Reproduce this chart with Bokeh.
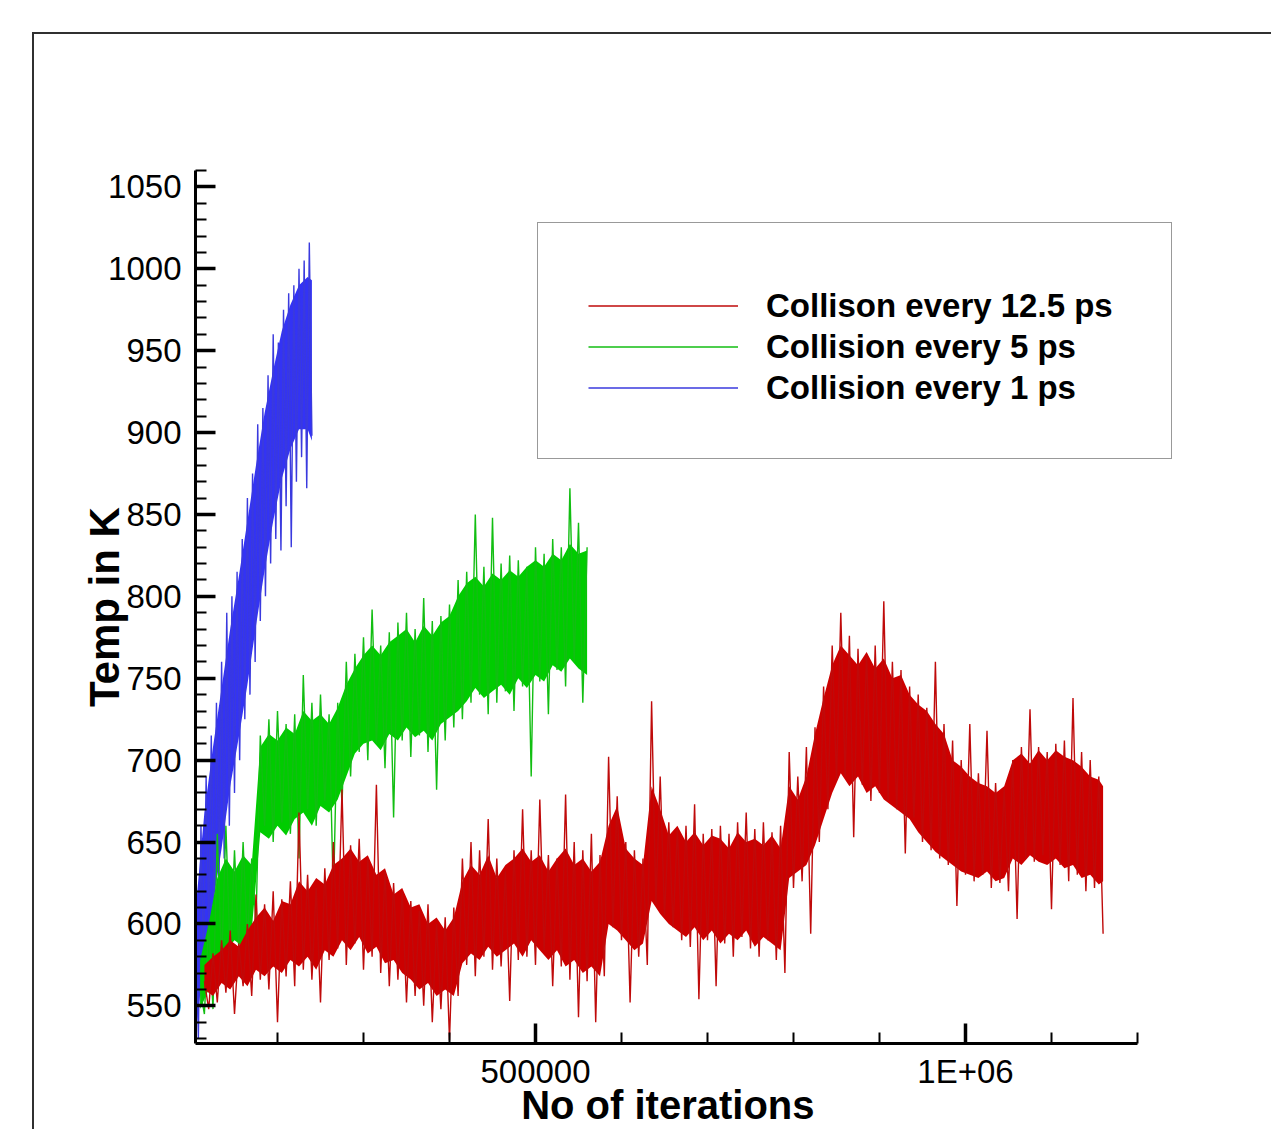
import numpy as np
from bokeh.plotting import figure
from bokeh.models import (Range1d, SingleIntervalTicker, Legend, LegendItem,
                          InlineStyleSheet)
from bokeh.embed import file_html
from bokeh.resources import INLINE

# ---------------- data ----------------
series_labels = ["Collison every 12.5 ps", "Collision every 5 ps", "Collision every 1 ps"]
x_tick_labels = {500000: "500000", 1000000: "1E+06"}
x_title = "No of iterations"
y_title = "Temp in K"

# Collision every 12.5 ps (red): sampled trace
red_iter = list(range(115000, 1160001, 5000))
red_temp = [
    565, 548, 582, 552, 590, 558, 596, 545, 588, 562,
    600, 556, 618, 566, 612, 560, 620, 540, 615, 568,
    626, 562, 668, 572, 630, 566, 622, 552, 634, 578,
    650, 585, 682, 575, 648, 588, 652, 572, 640, 580,
    685, 570, 632, 562, 625, 566, 620, 552, 614, 556,
    608, 550, 612, 540, 600, 548, 604, 529, 610, 556,
    640, 575, 650, 568, 645, 580, 664, 572, 640, 574,
    632, 553, 645, 578, 670, 580, 645, 575, 676, 584,
    642, 562, 640, 574, 679, 566, 650, 543, 645, 565,
    655, 540, 642, 568, 702, 598, 678, 590, 650, 552,
    645, 580, 640, 575, 736, 612, 690, 605, 662, 598,
    658, 590, 660, 586, 673, 554, 655, 590, 658, 562,
    660, 588, 655, 580, 662, 592, 668, 585, 658, 580,
    662, 590, 656, 578, 660, 570, 705, 622, 690, 626,
    708, 594, 720, 650, 745, 670, 770, 688, 790, 690,
    776, 653, 768, 685, 765, 675, 770, 680, 797, 675,
    760, 670, 755, 643, 745, 665, 740, 650, 732, 645,
    760, 640, 722, 636, 712, 611, 700, 630, 722, 626,
    692, 630, 718, 622, 686, 625, 682, 620, 700, 603,
    708, 640, 731, 638, 708, 642, 705, 609, 710, 636,
    712, 626, 738, 630, 705, 620, 700, 622, 690, 594,
]
# red: dense core of the fluctuation (lower / upper edge)
red_band_iter = list(range(115000, 1155001, 10000)) + [1160000]
red_band_lo = [
    560, 556, 564, 560, 568, 562, 572, 568, 574, 570,
    578, 574, 580, 572, 584, 580, 590, 584, 592, 582,
    586, 576, 578, 570, 566, 560, 564, 556, 560, 556,
    576, 582, 578, 586, 580, 584, 588, 580, 590, 584,
    578, 584, 574, 578, 570, 574, 568, 600, 596, 590,
    584, 588, 614, 606, 600, 596, 592, 598, 590, 596,
    588, 594, 590, 596, 586, 592, 588, 584, 628, 632,
    636, 648, 664, 680, 692, 684, 690, 680, 684, 676,
    672, 668, 664, 656, 650, 644, 640, 636, 632, 630,
    628, 632, 626, 628, 640, 636, 642, 638, 636, 640,
    634, 636, 628, 630, 624, 626,
]
red_band_hi = [
    575, 580, 584, 590, 586, 596, 604, 610, 602, 614,
    612, 626, 620, 628, 624, 636, 640, 646, 638, 642,
    630, 634, 618, 622, 610, 612, 600, 604, 596, 604,
    626, 636, 630, 642, 628, 636, 640, 646, 638, 642,
    632, 640, 646, 636, 640, 632, 638, 660, 672, 646,
    640, 636, 684, 670, 654, 660, 650, 656, 648, 654,
    652, 646, 656, 650, 652, 648, 654, 646, 684, 676,
    690, 716, 738, 758, 770, 764, 758, 766, 756, 762,
    750, 752, 740, 734, 730, 722, 716, 700, 696, 690,
    686, 684, 680, 684, 700, 704, 698, 706, 700, 706,
    702, 700, 696, 690, 688, 684,
]

# Collision every 5 ps (green): sampled trace
green_iter = list(range(110000, 560001, 5000))
green_temp = [
    560, 545, 600, 548, 655, 575, 660, 580, 645, 585,
    650, 590, 640, 600, 715, 660, 725, 650, 730, 662,
    722, 655, 728, 640, 752, 670, 735, 660, 740, 675,
    728, 616, 735, 672, 760, 690, 765, 705, 775, 700,
    792, 710, 770, 695, 778, 665, 784, 712, 790, 702,
    780, 715, 799, 705, 785, 682, 788, 712, 795, 720,
    810, 725, 815, 735, 850, 740, 818, 728, 848, 735,
    820, 742, 825, 730, 822, 745, 818, 690, 830, 748,
    826, 728, 835, 755, 830, 745, 866, 760, 845, 735,
    830,
]
green_band_iter = list(range(110000, 560001, 10000))
green_band_lo = [
    548, 560, 578, 584, 590, 586, 596, 656, 652, 660,
    654, 664, 668, 660, 672, 668, 676, 690, 704, 710,
    712, 706, 716, 712, 720, 714, 718, 712, 722, 726,
    730, 736, 744, 738, 742, 746, 740, 750, 744, 752,
    748, 758, 754, 762, 756, 752,
]
green_band_hi = [
    578, 600, 628, 640, 632, 642, 636, 708, 716, 712,
    720, 716, 730, 724, 728, 722, 732, 746, 756, 764,
    770, 764, 772, 776, 780, 772, 782, 776, 784, 788,
    800, 808, 812, 806, 814, 810, 816, 812, 818, 822,
    818, 826, 822, 832, 826, 828,
]

# Collision every 1 ps (blue): sampled trace
blue_iter = list(range(105000, 240001, 3000))
blue_temp = [
    600, 530, 660, 575, 690, 600, 715, 612, 735, 625,
    760, 640, 790, 660, 800, 680, 815, 700, 835, 725,
    860, 740, 875, 760, 905, 785, 915, 800, 935, 820,
    960, 835, 955, 828, 975, 855, 985, 830, 990, 870,
    1000, 885, 1005, 866, 1016, 898,
]
blue_band_iter = list(range(105000, 235001, 10000)) + [240000]
blue_band_lo = [535, 578, 612, 646, 684, 714, 746, 782, 816, 846, 872, 890, 902, 902, 895]
blue_band_hi = [610, 668, 708, 744, 780, 812, 846, 880, 912, 938, 962, 978, 990, 995, 993]

# ---------------- styling ----------------
RED, RED_L = "#cc0000", "#bf0a0a"
GREEN, GREEN_L = "#00cc00", "#12be12"
BLUE, BLUE_L = "#3333f5", "#3a3ade"
FONT = "Liberation Sans"
NBSP = "\u00a0"

W, H = 1271, 1129
FL, FR, FT, FB = 195, 98, 170, 82   # frame borders in canvas px
X0, X1_AXIS = 104650, 1200000
X1_VIEW = 1241860                    # frame extends right so the legend is not clipped

p = figure(width=W, height=H, output_backend="svg", toolbar_location=None,
           x_range=Range1d(X0, X1_VIEW), y_range=Range1d(527, 1060),
           min_border_left=FL, min_border_right=FR,
           min_border_top=FT, min_border_bottom=FB)
p.outline_line_color = None
p.xgrid.visible = False
p.ygrid.visible = False
p.background_fill_color = "white"
p.border_fill_color = "white"

for ax in (p.xaxis[0], p.yaxis[0]):
    ax.axis_line_width = 3
    ax.axis_line_color = "black"
    ax.major_tick_in = 20
    ax.major_tick_out = 0
    ax.minor_tick_in = 11
    ax.minor_tick_out = 0
    ax.major_tick_line_width = 3.5
    ax.minor_tick_line_width = 2
    ax.major_tick_line_color = "black"
    ax.minor_tick_line_color = "black"
    ax.major_label_text_font = FONT
    ax.major_label_text_font_size = "33px"
    ax.major_label_text_color = "black"
    ax.axis_label_text_font = FONT
    ax.axis_label_text_font_style = "bold"
    ax.axis_label_text_color = "black"

p.xaxis.bounds = (X0, X1_AXIS)
p.xaxis.ticker = SingleIntervalTicker(interval=500000, num_minor_ticks=5)
p.xaxis.major_label_overrides = x_tick_labels
p.xaxis.major_label_standoff = 9
# label is centred on the (wider) frame: pad on the right so it centres on the axis
p.xaxis.axis_label = x_title + NBSP * 3
p.xaxis.axis_label_text_font_size = "40px"
p.xaxis.axis_label_standoff = -10

p.yaxis.ticker = SingleIntervalTicker(interval=50, num_minor_ticks=5)
p.yaxis.major_label_standoff = 14
p.yaxis.axis_label = y_title
p.yaxis.axis_label_text_font_size = "42px"
p.yaxis.axis_label_standoff = -23

# series: blue, green, red (red on top)
p.varea(x=blue_band_iter, y1=blue_band_lo, y2=blue_band_hi, fill_color=BLUE)
b_line = p.line(blue_iter, blue_temp, line_color=BLUE_L, line_width=1.4)
p.varea(x=green_band_iter, y1=green_band_lo, y2=green_band_hi, fill_color=GREEN)
g_line = p.line(green_iter, green_temp, line_color=GREEN_L, line_width=1.4)
p.varea(x=red_band_iter, y1=red_band_lo, y2=red_band_hi, fill_color=RED)
r_line = p.line(red_iter, red_temp, line_color=RED_L, line_width=1.4)

legend = Legend(items=[LegendItem(label=series_labels[0], renderers=[r_line]),
                       LegendItem(label=series_labels[1], renderers=[g_line]),
                       LegendItem(label=series_labels[2], renderers=[b_line])],
                location=(342, 584), margin=0, padding=50, spacing=0,
                glyph_width=150, glyph_height=41, label_height=41,
                label_standoff=28, label_width=355, label_text_font=FONT,
                label_text_font_style="bold", label_text_font_size="33px",
                label_text_baseline="middle", label_text_color="black",
                title=" ", title_text_font_size="8px", title_standoff=3,
                border_line_color="#333333", border_line_width=1.5,
                background_fill_color="white", background_fill_alpha=1.0)
p.add_layout(legend, "center")

# outer page frame (only its left and top edges fall inside the window)
p.stylesheets = [InlineStyleSheet(css="""
:host { position: relative; }
:host::after {
  content: ""; position: absolute; left: 32px; top: 32px; right: 0; bottom: 0;
  border-left: 2px solid #303030; border-top: 2px solid #303030;
  pointer-events: none;
}
""")]

open("out.html", "w").write(file_html(p, INLINE))
